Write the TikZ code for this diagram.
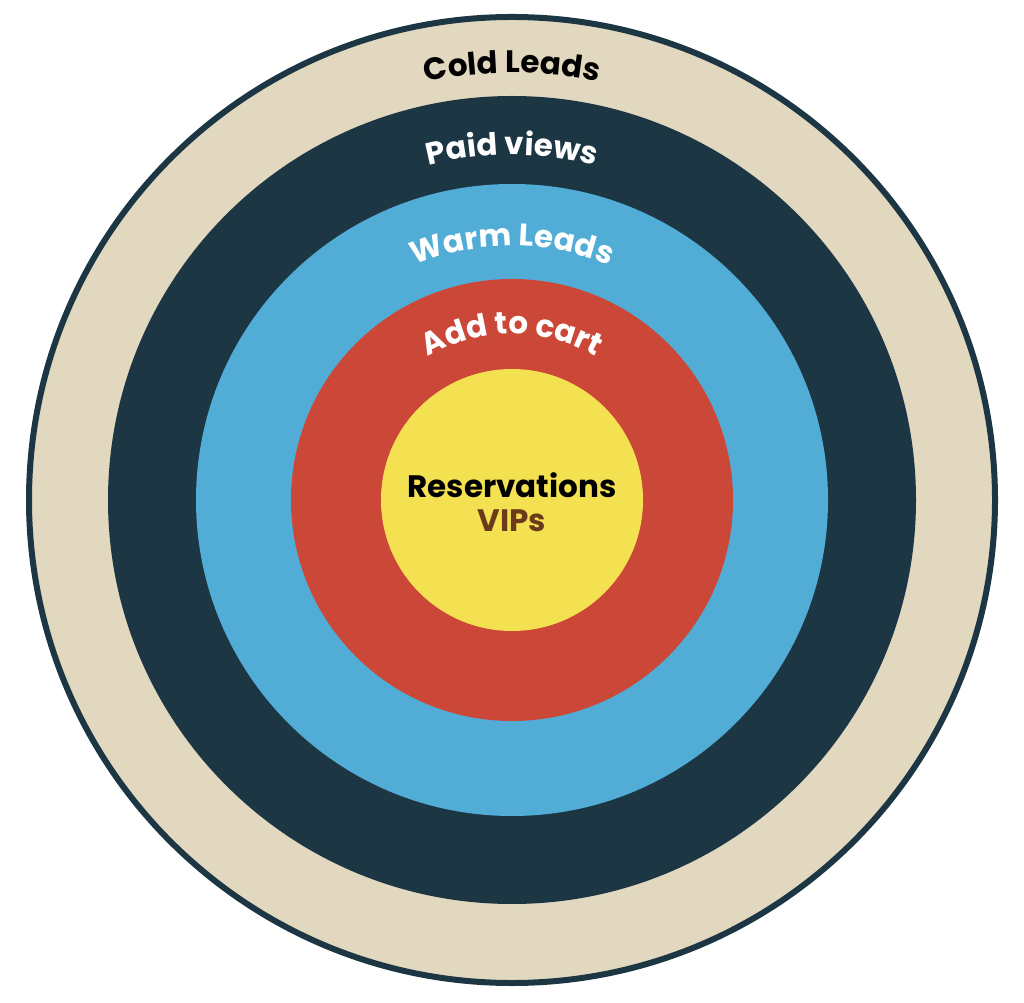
\documentclass[tikz,border=0pt]{standalone}
\usepackage{fontspec}
\setmainfont{Poppins}
\usetikzlibrary{decorations.text}
\definecolor{beige}{HTML}{E2D8C0}
\definecolor{navy}{HTML}{1C3644}
\definecolor{sky}{HTML}{52ADD6}
\definecolor{brick}{HTML}{CB4838}
\definecolor{lemon}{HTML}{F4E152}
\definecolor{vipbrown}{HTML}{6B3A1A}
\tikzset{
  ringlabel/.style={decorate, decoration={text along path, text align=center}}
}
\begin{document}
\begin{tikzpicture}[x=1pt,y=1pt]
  \useasboundingbox (0,0) rectangle (1024,1002);
  \coordinate (c) at (512,502);
  \draw[fill=beige, draw=navy, line width=6pt] (c) circle[radius=483];
  \fill[navy] (c) circle[radius=404];
  \fill[sky] (c) circle[radius=316];
  \fill[brick] (c) circle[radius=221];
  \fill[lemon] (c) circle[radius=131];
  \path[ringlabel, decoration={text={|\fontsize{31}{33}\selectfont\bfseries\color{black}|Cold Leads}}]
    (c) ++(114:427) arc[start angle=114, end angle=66, radius=427];
  \path[ringlabel, decoration={text={|\fontsize{31}{33}\selectfont\bfseries\color{white}|Paid views}}]
    (c) ++(118:345) arc[start angle=118, end angle=62, radius=345];
  \path[ringlabel, decoration={text={|\fontsize{31}{33}\selectfont\bfseries\color{white}|Warm Leads}}]
    (c) ++(124:254) arc[start angle=124, end angle=56, radius=254];
  \path[ringlabel, decoration={text={|\fontsize{31}{33}\selectfont\bfseries\color{white}|Add to cart}}]
    (c) ++(135:166) arc[start angle=135, end angle=45, radius=166];
  \node[font=\fontsize{31}{33}\selectfont\bfseries] (res) at (512,517) {Reservations};
  \node[font=\fontsize{31}{33}\selectfont\bfseries, text=vipbrown] (vip) at (512,481) {VIPs};
\end{tikzpicture}
\end{document}
